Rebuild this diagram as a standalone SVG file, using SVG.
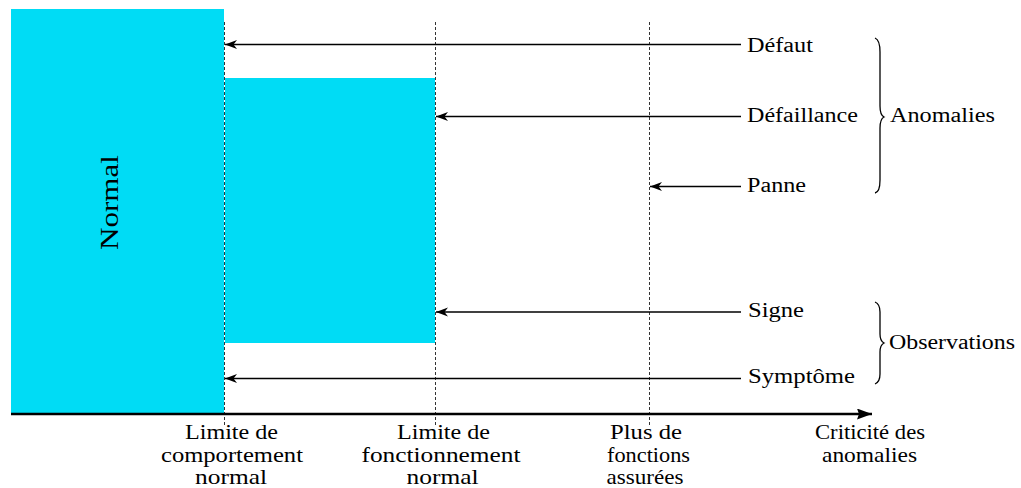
<svg xmlns="http://www.w3.org/2000/svg" width="1021" height="488" viewBox="0 0 1021 488">
<style>
  .zone{fill:#00dcf5;}
  .lim{stroke:#333;stroke-width:1;stroke-dasharray:3,2;fill:none;}
  .arr{stroke:#000;stroke-width:1.6;fill:none;marker-end:url(#ah);}
  .axis{stroke:#000;stroke-width:2.6;fill:none;marker-end:url(#axh);}
  .brace{stroke:#000;stroke-width:1.3;fill:none;}
  .t{font-family:'Liberation Serif', 'Times New Roman', Times, serif;fill:#000;}
  .lbl{font-size:20px;}
  .bot{font-size:21px;text-anchor:middle;}
</style>
<defs>
  <marker id="ah" markerUnits="userSpaceOnUse" markerWidth="14" markerHeight="10" refX="12" refY="4.5" orient="auto">
    <path d="M0,0 L12,4.5 L0,9 L3.5,4.5 z" fill="#000"/>
  </marker>
  <marker id="axh" markerUnits="userSpaceOnUse" markerWidth="16" markerHeight="12" refX="15" refY="5.5" orient="auto">
    <path d="M0,0 L15,5.5 L0,11 L2,5.5 z" fill="#000"/>
  </marker>
</defs>

<g id="zone-normal">
  <rect class="zone" x="11" y="9" width="213" height="405"/>
  <text class="t" transform="translate(118,250) rotate(-90)" font-size="26" textLength="95" lengthAdjust="spacingAndGlyphs">Normal</text>
</g>
<g id="zone-degraded">
  <rect class="zone" x="225" y="78" width="210" height="265"/>
</g>

<g id="limits">
  <line class="lim" x1="224.5" y1="22" x2="224.5" y2="425"/>
  <line class="lim" x1="435.5" y1="22" x2="435.5" y2="425"/>
  <line class="lim" x1="649.5" y1="22" x2="649.5" y2="425"/>
</g>

<g id="connectors">
  <line class="axis" x1="11" y1="414" x2="872" y2="414"/>
  <line class="arr" x1="741" y1="44.5" x2="225" y2="44.5"/>
  <line class="arr" x1="741" y1="116.5" x2="436" y2="116.5"/>
  <line class="arr" x1="741" y1="186.5" x2="650" y2="186.5"/>
  <line class="arr" x1="741" y1="312" x2="436" y2="312"/>
  <line class="arr" x1="741" y1="378.5" x2="225" y2="378.5"/>
</g>

<g id="label-defaut"><text class="t lbl" x="747" y="52" textLength="66" lengthAdjust="spacingAndGlyphs">Défaut</text></g>
<g id="label-defaillance"><text class="t lbl" x="747" y="122" textLength="111" lengthAdjust="spacingAndGlyphs">Défaillance</text></g>
<g id="label-panne"><text class="t lbl" x="747" y="192" textLength="59" lengthAdjust="spacingAndGlyphs">Panne</text></g>
<g id="label-signe"><text class="t lbl" x="748" y="317" textLength="56" lengthAdjust="spacingAndGlyphs">Signe</text></g>
<g id="label-symptome"><text class="t lbl" x="748" y="383" textLength="107" lengthAdjust="spacingAndGlyphs">Symptôme</text></g>

<g id="group-anomalies">
  <path class="brace" d="M875,38 Q880,40 880,52 L880,106 Q880,115 884,117 Q880,119 880,128 L880,180 Q880,192 875,193"/>
  <text class="t lbl" x="890" y="122" textLength="105" lengthAdjust="spacingAndGlyphs">Anomalies</text>
</g>
<g id="group-observations">
  <path class="brace" d="M875,302 Q880,304 880,312 L880,334 Q880,341 884,343 Q880,345 880,352 L880,374 Q880,382 875,384"/>
  <text class="t lbl" x="889" y="349" textLength="126" lengthAdjust="spacingAndGlyphs">Observations</text>
</g>

<g id="tick-comportement">
  <text class="t bot" x="231.5" y="439" textLength="93" lengthAdjust="spacingAndGlyphs">Limite de</text>
  <text class="t bot" x="232" y="462" textLength="142" lengthAdjust="spacingAndGlyphs">comportement</text>
  <text class="t bot" x="231" y="484" textLength="72" lengthAdjust="spacingAndGlyphs">normal</text>
</g>
<g id="tick-fonctionnement">
  <text class="t bot" x="443.5" y="439" textLength="93" lengthAdjust="spacingAndGlyphs">Limite de</text>
  <text class="t bot" x="441" y="462" textLength="159" lengthAdjust="spacingAndGlyphs">fonctionnement</text>
  <text class="t bot" x="442.5" y="484" textLength="72" lengthAdjust="spacingAndGlyphs">normal</text>
</g>
<g id="tick-fonctions">
  <text class="t bot" x="646" y="439" textLength="72" lengthAdjust="spacingAndGlyphs">Plus de</text>
  <text class="t bot" x="648.5" y="462" textLength="83" lengthAdjust="spacingAndGlyphs">fonctions</text>
  <text class="t bot" x="645" y="484" textLength="77" lengthAdjust="spacingAndGlyphs">assurées</text>
</g>
<g id="tick-criticite">
  <text class="t bot" x="870" y="439" textLength="110" lengthAdjust="spacingAndGlyphs">Criticité des</text>
  <text class="t bot" x="869.5" y="462" textLength="95" lengthAdjust="spacingAndGlyphs">anomalies</text>
</g>
</svg>
